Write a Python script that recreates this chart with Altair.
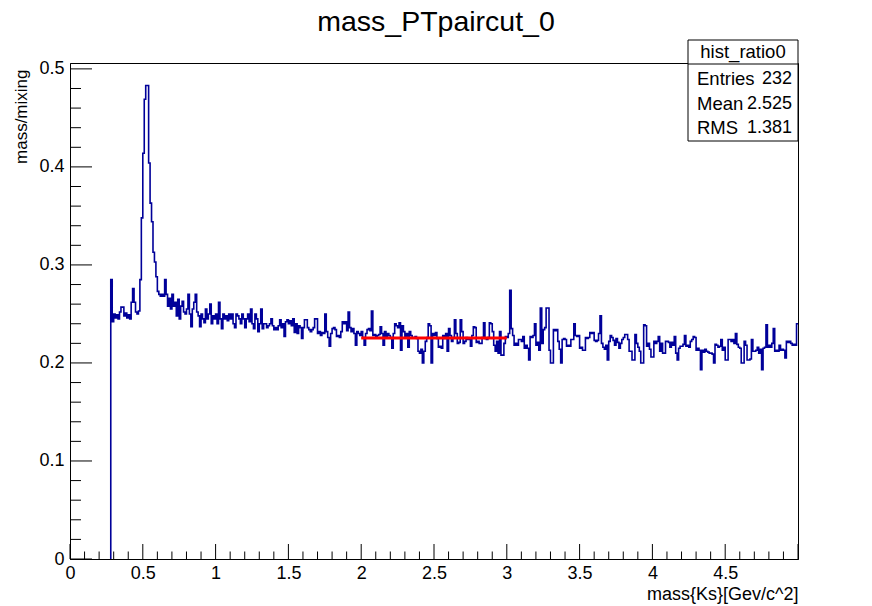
import altair as alt
import numpy as np
import pandas as pd

# ---------------- data ----------------
bin_start = 0.28
bin_width = 0.01
ratio_values = [
    0.285, 0.242,
    0.250, 0.246, 0.249, 0.245, 0.252, 0.257, 0.257, 0.248, 0.251, 0.246,
    0.249, 0.245, 0.262, 0.276, 0.262, 0.252, 0.250, 0.253, 0.285, 0.348,
    0.414, 0.469, 0.483, 0.483, 0.404, 0.363, 0.344, 0.313, 0.303, 0.288,
    0.273, 0.270, 0.268, 0.270, 0.268, 0.285, 0.270, 0.258, 0.266, 0.255,
    0.270, 0.258, 0.262, 0.248, 0.265, 0.245, 0.258, 0.263, 0.252, 0.250,
    0.255, 0.270, 0.250, 0.237, 0.255, 0.262, 0.270, 0.252, 0.248, 0.237,
    0.250, 0.245, 0.241, 0.255, 0.245, 0.250, 0.260, 0.240, 0.248, 0.245,
    0.250, 0.240, 0.262, 0.245, 0.235, 0.250, 0.245, 0.248, 0.243, 0.250,
    0.245, 0.250, 0.240, 0.236, 0.250, 0.248, 0.245, 0.240, 0.250, 0.245,
    0.236, 0.245, 0.250, 0.242, 0.255, 0.240, 0.235, 0.250, 0.245, 0.232,
    0.240, 0.255, 0.235, 0.240, 0.240, 0.236, 0.238, 0.240, 0.245, 0.238,
    0.234, 0.236, 0.234, 0.238, 0.244, 0.236, 0.240, 0.227, 0.242, 0.244,
    0.240, 0.243, 0.238, 0.245, 0.231, 0.240, 0.230, 0.238, 0.236, 0.225,
    0.236, 0.244, 0.244, 0.236, 0.234, 0.232, 0.234, 0.236, 0.245, 0.245,
    0.230, 0.232, 0.228, 0.231, 0.230, 0.250, 0.232, 0.226, 0.217, 0.230,
    0.235, 0.236, 0.234, 0.227, 0.228, 0.226, 0.232, 0.242, 0.240, 0.242,
    0.233, 0.252, 0.236, 0.232, 0.235, 0.230, 0.218, 0.232, 0.230, 0.228,
    0.232, 0.226, 0.218, 0.230, 0.234, 0.235, 0.233, 0.253, 0.228, 0.229,
    0.226, 0.228, 0.229, 0.237, 0.230, 0.218, 0.232, 0.226, 0.230, 0.228,
    0.226, 0.215, 0.230, 0.240, 0.238, 0.236, 0.241, 0.213, 0.238, 0.232,
    0.226, 0.230, 0.216, 0.232, 0.228, 0.226, 0.226, 0.227, 0.225, 0.212,
    0.210, 0.214, 0.200, 0.212, 0.222, 0.226, 0.240, 0.238, 0.200, 0.230,
    0.228, 0.231, 0.225, 0.216, 0.217, 0.215, 0.228, 0.225, 0.230, 0.212,
    0.235, 0.228, 0.222, 0.226, 0.244, 0.230, 0.220, 0.221, 0.244, 0.232,
    0.220, 0.222, 0.226, 0.224, 0.225, 0.217, 0.228, 0.237, 0.236, 0.221,
    0.222, 0.220, 0.220, 0.226, 0.241, 0.225, 0.224, 0.226, 0.241, 0.240,
    0.232, 0.218, 0.212, 0.222, 0.210, 0.232, 0.208, 0.208, 0.220, 0.227,
    0.226, 0.230, 0.274, 0.235, 0.228, 0.218, 0.220, 0.218, 0.224, 0.224,
    0.222, 0.227, 0.215, 0.218, 0.215, 0.203, 0.227, 0.226, 0.228, 0.240,
    0.218, 0.221, 0.213, 0.256, 0.220, 0.234, 0.236, 0.256, 0.256, 0.213,
    0.200, 0.200, 0.234, 0.233, 0.234, 0.222, 0.214, 0.200, 0.224, 0.225,
    0.224, 0.217, 0.218, 0.217, 0.224, 0.224, 0.240, 0.228, 0.227, 0.228,
    0.215, 0.216, 0.213, 0.213, 0.226, 0.225, 0.226, 0.231, 0.230, 0.231,
    0.223, 0.222, 0.223, 0.230, 0.248, 0.220, 0.216, 0.214, 0.218, 0.203,
    0.222, 0.228, 0.226, 0.223, 0.218, 0.225, 0.221, 0.215, 0.220, 0.224,
    0.226, 0.229, 0.229, 0.224, 0.212, 0.212, 0.203, 0.203, 0.229, 0.220,
    0.216, 0.212, 0.200, 0.200, 0.239, 0.238, 0.217, 0.220, 0.214, 0.206,
    0.206, 0.222, 0.220, 0.222, 0.227, 0.212, 0.220, 0.210, 0.210, 0.222,
    0.222, 0.221, 0.216, 0.221, 0.218, 0.227, 0.210, 0.203, 0.215, 0.217,
    0.217, 0.219, 0.228, 0.217, 0.218, 0.216, 0.222, 0.224, 0.227, 0.226,
    0.213, 0.215, 0.213, 0.193, 0.213, 0.211, 0.214, 0.212, 0.211, 0.210,
    0.210, 0.209, 0.200, 0.219, 0.218, 0.216, 0.217, 0.224, 0.213, 0.216,
    0.203, 0.203, 0.224, 0.224, 0.222, 0.224, 0.220, 0.230, 0.219, 0.216,
    0.215, 0.200, 0.200, 0.222, 0.218, 0.203, 0.203, 0.204, 0.224, 0.212,
    0.212, 0.213, 0.216, 0.210, 0.214, 0.193, 0.215, 0.216, 0.239, 0.216,
    0.218, 0.216, 0.220, 0.235, 0.212, 0.213, 0.212, 0.218, 0.213, 0.214,
    0.213, 0.205, 0.222, 0.221, 0.222, 0.220, 0.218, 0.219, 0.218, 0.240,
]

fit_x = [2.0, 3.0]
fit_y = [0.2255, 0.2255]

x_major_ticks = [0, 0.5, 1, 1.5, 2, 2.5, 3, 3.5, 4, 4.5]
y_major_ticks = [0, 0.1, 0.2, 0.3, 0.4, 0.5]

title_text = "mass_PTpaircut_0"
x_title = "mass{Ks}[Gev/c^2]"
y_title = "mass/mixing"
stats_header = "hist_ratio0"
stats_names = ["Entries", "Mean", "RMS"]
stats_vals = ["232", "2.525", "1.381"]

# ---------------- layout ----------------
W, H = 728, 496
X_MAX, Y_MAX = 5.0, 0.506
FONT = "Liberation Sans"
BLUE = "#000099"

n = len(ratio_values)
edges = np.round(bin_start + bin_width * np.arange(n + 1), 2)
hx = [bin_start] + list(edges)
hy = [0.0] + list(ratio_values) + [ratio_values[-1]]
hist_df = pd.DataFrame({"x": hx, "y": hy, "i": np.arange(len(hx))})

xs = alt.Scale(domain=[0, X_MAX], nice=False, zero=False)
ys = alt.Scale(domain=[0, Y_MAX], nice=False, zero=False)

hist = alt.Chart(hist_df).mark_line(
    interpolate="step-after", color=BLUE, strokeWidth=1.6, clip=True
).encode(
    x=alt.X("x:Q", scale=xs, axis=alt.Axis(
        values=x_major_ticks, format="~g", ticks=False, tickSize=0, grid=False,
        labelFont=FONT, labelFontSize=18, labelColor="black", labelPadding=5,
        labelBaseline="top", labelFlush=False,
        title=x_title, titleFont=FONT, titleFontSize=18, titleFontWeight="normal",
        titleColor="black", titleAnchor="end", titleAlign="right",
        titleX=W, titleY=40, titleBaseline="alphabetic",
        domainColor="black", domainWidth=1)),
    y=alt.Y("y:Q", scale=ys, axis=alt.Axis(
        values=y_major_ticks, format="~g", ticks=False, tickSize=0, grid=False,
        labelFont=FONT, labelFontSize=18, labelColor="black", labelPadding=6,
        labelFlush=False,
        title=y_title, titleFont=FONT, titleFontSize=17, titleFontWeight="normal",
        titleColor="black", titleAngle=270, titleAlign="right", titleAnchor="end",
        titleX=-44, titleY=6, titleBaseline="alphabetic",
        domainColor="black", domainWidth=1)),
    order="i:Q",
)

fit = alt.Chart(pd.DataFrame({"x": fit_x, "y": fit_y})).mark_line(
    color="#ff0000", strokeWidth=3
).encode(x=alt.X("x:Q", scale=xs), y=alt.Y("y:Q", scale=ys))

# tick marks (ROOT style, pointing inward)
x_minor = [round(v, 2) for v in np.arange(0.1, 5.0, 0.1) if abs(v / 0.5 - round(v / 0.5)) > 1e-6]
y_minor = [round(v, 3) for v in np.arange(0.02, 0.506, 0.02) if abs(v / 0.1 - round(v / 0.1)) > 1e-6]

xt_major = alt.Chart(pd.DataFrame({"x": x_major_ticks + [5.0]})).mark_rule(color="black").encode(
    x=alt.X("x:Q", scale=xs), y=alt.value(H), y2=alt.value(H - 15))
xt_minor = alt.Chart(pd.DataFrame({"x": x_minor})).mark_rule(color="black").encode(
    x=alt.X("x:Q", scale=xs), y=alt.value(H), y2=alt.value(H - 7.5))
yt_major = alt.Chart(pd.DataFrame({"y": y_major_ticks})).mark_rule(color="black").encode(
    y=alt.Y("y:Q", scale=ys), x=alt.value(0), x2=alt.value(22))
yt_minor = alt.Chart(pd.DataFrame({"y": y_minor})).mark_rule(color="black").encode(
    y=alt.Y("y:Q", scale=ys), x=alt.value(0), x2=alt.value(11))

# stats box
BX0, BX1, BY0, BY1 = 618, 728, -23, 78
box = alt.Chart(pd.DataFrame({"a": [0]})).mark_rect(
    fill="white", stroke="black", strokeWidth=1
).encode(x=alt.value(BX0), x2=alt.value(BX1), y=alt.value(BY0), y2=alt.value(BY1))
divider = alt.Chart(pd.DataFrame({"a": [0]})).mark_rule(color="black").encode(
    x=alt.value(BX0), x2=alt.value(BX1), y=alt.value(1))
header = alt.Chart(pd.DataFrame({"t": [stats_header]})).mark_text(
    font=FONT, fontSize=18.5, align="center", baseline="middle", color="black"
).encode(x=alt.value((BX0 + BX1) / 2), y=alt.value(-11), text="t:N")

stat_layers = []
for k, (nm, vl) in enumerate(zip(stats_names, stats_vals)):
    yy = 16 + k * 24.5
    stat_layers.append(alt.Chart(pd.DataFrame({"t": [nm]})).mark_text(
        font=FONT, fontSize=18.5, align="left", baseline="middle", color="black"
    ).encode(x=alt.value(BX0 + 9), y=alt.value(yy), text="t:N"))
    stat_layers.append(alt.Chart(pd.DataFrame({"t": [vl]})).mark_text(
        font=FONT, fontSize=18, align="right", baseline="middle", color="black"
    ).encode(x=alt.value(BX1 - 6), y=alt.value(yy), text="t:N"))

title = alt.Chart(pd.DataFrame({"t": [title_text]})).mark_text(
    font=FONT, fontSize=28.5, align="center", baseline="middle", color="black"
).encode(x=alt.value(366), y=alt.value(-41), text="t:N")

chart = alt.layer(
    hist, fit, xt_major, xt_minor, yt_major, yt_minor,
    box, divider, header, *stat_layers, title
).properties(
    width=W, height=H,
    autosize=alt.AutoSizeParams(type="none"),
    padding={"left": 70, "top": 63, "right": 74, "bottom": 47},
    background="white",
).configure_view(stroke="black", strokeWidth=1)

chart.save("out.html", embed_options={"renderer": "svg", "actions": False})
